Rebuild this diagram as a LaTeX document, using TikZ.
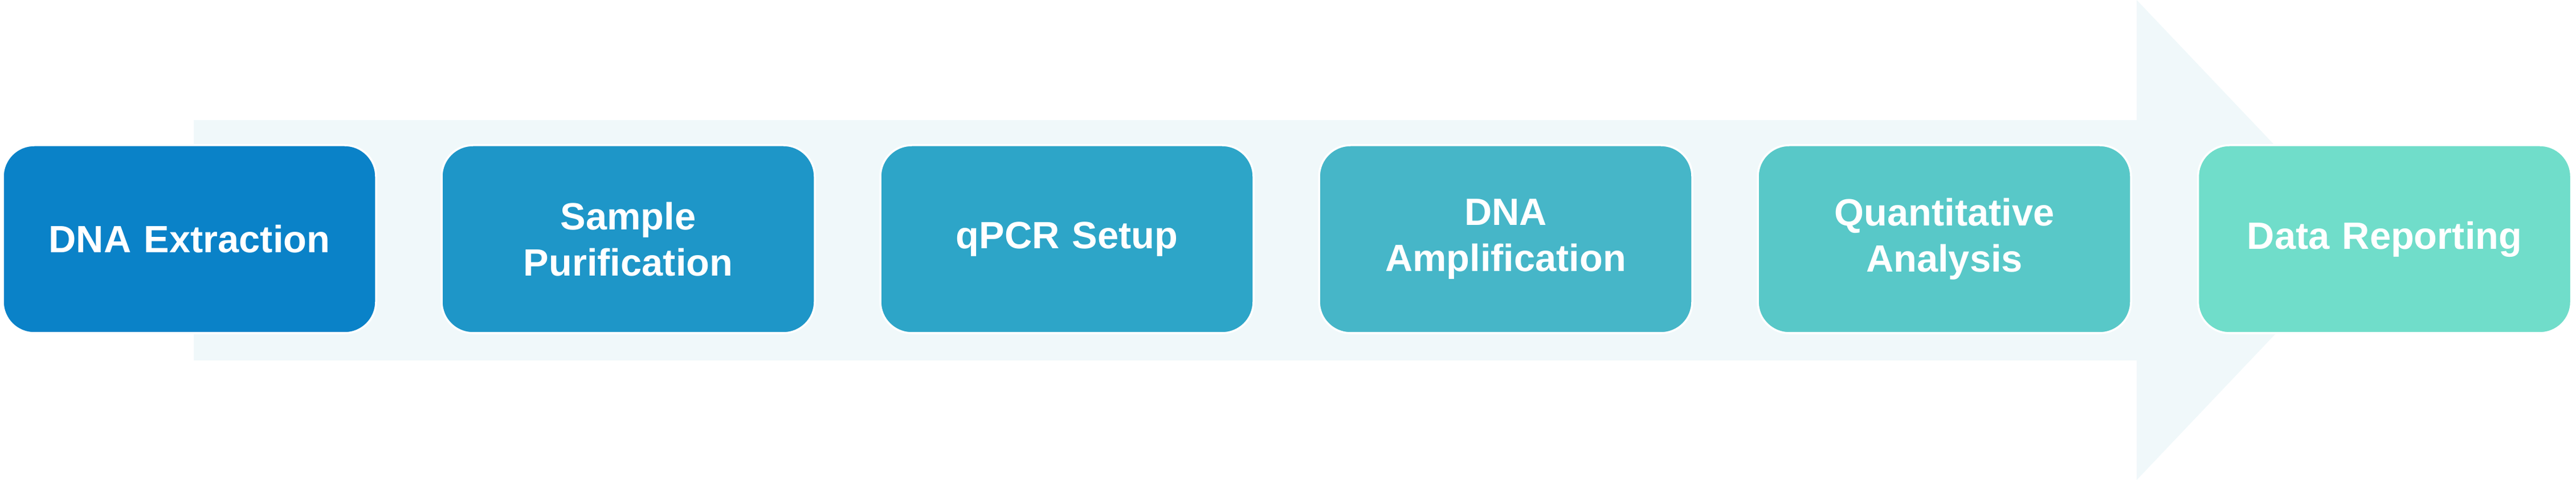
\documentclass[tikz,border=0pt]{standalone}
\usepackage{fontspec}
\setmainfont{Liberation Sans}
\usepackage{tikz}
\definecolor{arrowbg}{HTML}{F0F8FA}
\definecolor{stepa}{HTML}{0A82C8}
\definecolor{stepb}{HTML}{1E96C8}
\definecolor{stepc}{HTML}{2DA5C8}
\definecolor{stepd}{HTML}{46B6C8}
\definecolor{stepe}{HTML}{58C8C8}
\definecolor{stepf}{HTML}{70DDCA}

\begin{document}
\begin{tikzpicture}
\useasboundingbox (0,0) rectangle (45.21,8.43);
\tikzstyle{every node}=[rectangle,rounded corners=0.55cm,draw=white,line width=1pt,minimum width=6.55cm,minimum height=3.3cm,text width=6cm,align=center,text=white,font=\fontsize{19}{23}\selectfont\bfseries]
% background arrow
\fill[arrowbg] (3.4,2.1) -- (37.5,2.1) -- (37.5,0) -- (41.5,4.215) -- (37.5,8.43) -- (37.5,6.32) -- (3.4,6.32) -- cycle;
\node[fill=stepa] (a) at (3.325,4.23) {DNA Extraction};
\node[fill=stepb] (b) at (11.025,4.23) {Sample\\Purification};
\node[fill=stepc] (c) at (18.725,4.23) {qPCR Setup};
\node[fill=stepd] (d) at (26.425,4.23) {DNA\\Amplification};
\node[fill=stepe] (e) at (34.125,4.23) {Quantitative\\Analysis};
\node[fill=stepf] (f) at (41.85,4.23) {Data Reporting};
\end{tikzpicture}
\end{document}
